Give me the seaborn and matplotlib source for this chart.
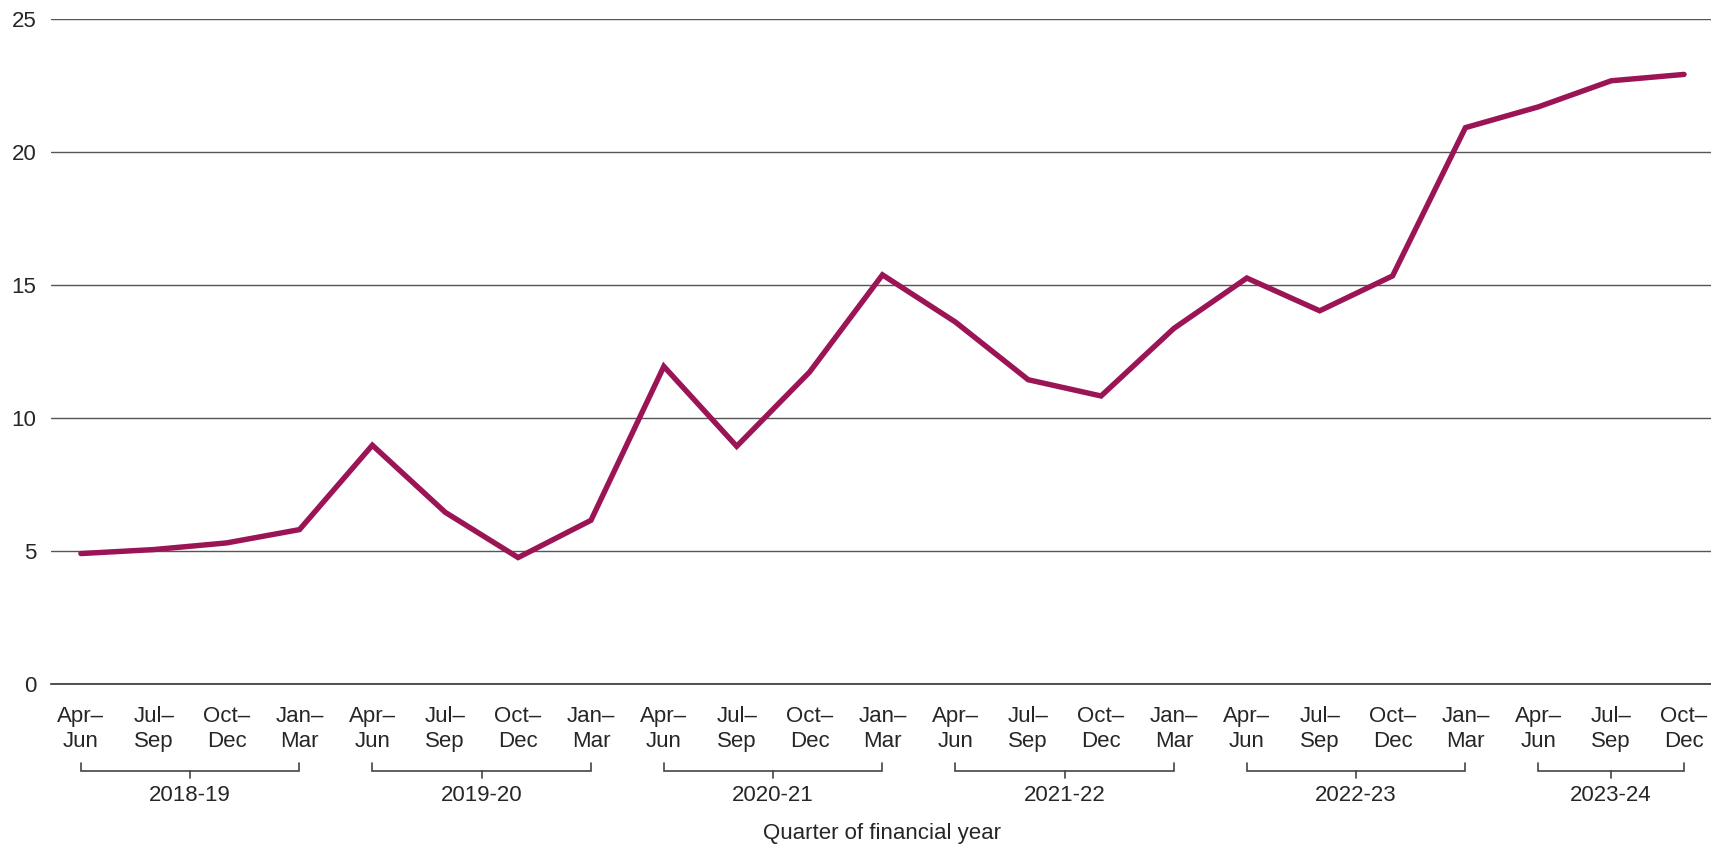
import matplotlib
matplotlib.use("Agg")
import matplotlib.pyplot as plt
import seaborn as sns
import pandas as pd
from matplotlib.transforms import blended_transform_factory

# ---- data ----
years = ["2018-19", "2019-20", "2020-21", "2021-22", "2022-23", "2023-24"]
quarters = ["Apr–\nJun", "Jul–\nSep", "Oct–\nDec", "Jan–\nMar"]
quarter_labels = quarters * 5 + quarters[:3]
year_of_point = [y for y in years[:5] for _ in range(4)] + [years[5]] * 3
values = [4.9, 5.05, 5.3, 5.8,
          8.97, 6.45, 4.75, 6.15,
          11.93, 8.93, 11.72, 15.37,
          13.6, 11.43, 10.82, 13.36,
          15.25, 14.02, 15.33, 20.9,
          21.68, 22.66, 22.9]
yticks = [0, 5, 10, 15, 20, 25]
x_title = "Quarter of financial year"

df = pd.DataFrame({"pos": range(len(values)), "value": values,
                   "quarter": quarter_labels, "year": year_of_point})

sns.set_style("white")
plt.rcParams["font.family"] = ["Liberation Sans", "DejaVu Sans"]
text_col = "#262626"
line_col = "#9B1455"

fig = plt.figure(figsize=(17.11, 8.44), dpi=100)
ax = fig.add_axes([51 / 1711, 1 - 684 / 844, 1 - 51 / 1711, (684 - 18.5) / 844])

sns.lineplot(data=df, x="pos", y="value", ax=ax, color=line_col, lw=3.9,
             solid_capstyle="round", solid_joinstyle="miter")

ax.set_xlim(-0.41, len(values) - 1 + 0.37)
ax.set_ylim(0, 25)
ax.set_yticks(yticks)
ax.set_yticklabels([str(t) for t in yticks])
ax.set_xticks(df["pos"])
ax.set_xticklabels(df["quarter"], linespacing=1.25)
ax.set_xticks([df["pos"].iloc[-1]], minor=True)

ax.yaxis.grid(True, color="#555555", lw=1.0)
ax.set_axisbelow(True)
for s in ["left", "top", "right"]:
    ax.spines[s].set_visible(False)
ax.spines["bottom"].set_color("#333333")
ax.spines["bottom"].set_linewidth(1.2)

ax.tick_params(axis="y", length=0, pad=10.5, labelsize=16, labelcolor=text_col)
ax.tick_params(axis="x", which="major", length=6.5, width=1, color="#333333",
               direction="out", pad=9, labelsize=16, labelcolor=text_col)
ax.tick_params(axis="x", which="minor", length=6.5, width=1, color="#333333",
               direction="in")
xt = ax.xaxis.get_major_ticks()
xt[-1].tick1line.set_visible(False)
ax.set_xlabel("")
ax.set_ylabel("")

# year brackets
trans = blended_transform_factory(ax.transData, ax.transAxes)
yb, yb_top, yb_mid = -0.1307, -0.1187, -0.1412
br_col = "#444444"
for yr in years:
    sub = df[df["year"] == yr]["pos"]
    x0, x1 = sub.min(), sub.max()
    xm = (x0 + x1) / 2
    ax.plot([x0, x0, x1, x1], [yb_top, yb, yb, yb_top], transform=trans,
            color=br_col, lw=1.2, clip_on=False, solid_joinstyle="miter")
    ax.plot([xm, xm], [yb, yb_mid], transform=trans, color=br_col, lw=1.2,
            clip_on=False)
    ax.text(xm, -0.1668, yr, transform=trans, ha="center", va="center",
            fontsize=16, color=text_col)

ax.text(11.0, -0.224, x_title, transform=trans, ha="center",
        va="center", fontsize=16, color=text_col)

fig.savefig("out.png", dpi=100)
